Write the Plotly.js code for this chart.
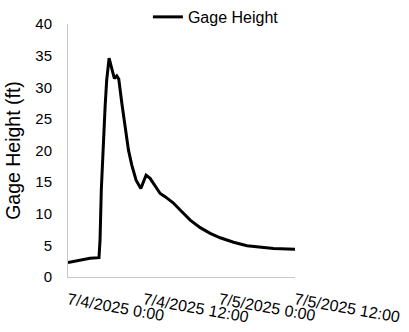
<!DOCTYPE html>
<html>
<head>
<meta charset="utf-8">
<script src="https://cdn.plot.ly/plotly-3.0.1.min.js"></script>
<style>html,body{margin:0;padding:0;background:#fff;}#chart{width:409px;height:332px;}</style>
</head>
<body>
<div id="chart"></div>
<script>
const times = [
  "2025-07-04 00:00","2025-07-04 02:26","2025-07-04 03:30","2025-07-04 04:55",
  "2025-07-04 05:05","2025-07-04 05:17","2025-07-04 05:31","2025-07-04 05:53",
  "2025-07-04 06:08","2025-07-04 06:31","2025-07-04 06:56","2025-07-04 07:21",
  "2025-07-04 07:44","2025-07-04 08:03","2025-07-04 08:32","2025-07-04 09:03",
  "2025-07-04 09:35","2025-07-04 10:07","2025-07-04 10:48","2025-07-04 11:33",
  "2025-07-04 11:58","2025-07-04 12:23","2025-07-04 13:01","2025-07-04 13:49",
  "2025-07-04 14:37","2025-07-04 15:24","2025-07-04 16:43","2025-07-04 17:47",
  "2025-07-04 19:23","2025-07-04 20:58","2025-07-04 22:33","2025-07-05 00:08",
  "2025-07-05 02:15","2025-07-05 04:23","2025-07-05 06:30","2025-07-05 08:36",
  "2025-07-05 12:00"
];
const gageHeight = [
  2.3, 2.7, 2.95, 3.05,
  5.9, 13.8, 20.0, 26.9,
  31.1, 34.6, 33.0, 31.4,
  31.8, 31.3, 27.5, 23.8,
  20.1, 17.7, 15.3, 14.0,
  15.1, 16.1, 15.6, 14.5,
  13.2, 12.7, 11.7, 10.6,
  9.0, 7.8, 6.9, 6.2,
  5.5, 4.95, 4.7, 4.5,
  4.4
];
const tickVals = ["2025-07-04 00:00","2025-07-04 12:00","2025-07-05 00:00","2025-07-05 12:00"];
const tickText = ["7/4/2025 0:00","7/4/2025 12:00","7/5/2025 0:00","7/5/2025 12:00"];
const yTicks = [0, 5, 10, 15, 20, 25, 30, 35, 40];
const seriesName = "Gage Height";

const font = "Liberation Sans, Arial, sans-serif";
Plotly.newPlot("chart", [{
  x: times, y: gageHeight, type: "scatter", mode: "lines", name: seriesName,
  line: {color: "#000000", width: 3}
}], {
  width: 409, height: 332,
  margin: {l: 68, r: 114, t: 24, b: 55, pad: 0, autoexpand: false},
  paper_bgcolor: "#ffffff", plot_bgcolor: "#ffffff",
  showlegend: true,
  legend: {orientation: "h", x: 0.352, xanchor: "left", xref: "paper",
    y: 1.095, yanchor: "top", yref: "paper",
    font: {family: font, size: 16, color: "#000"}, bgcolor: "rgba(0,0,0,0)"},
  xaxis: {
    type: "date", range: ["2025-07-04 00:00", "2025-07-05 12:00"],
    tickmode: "array", tickvals: tickVals, ticktext: tickText,
    tickangle: 10, ticks: "", showgrid: false, zeroline: false,
    showline: true, linecolor: "#c8c8c8", linewidth: 1,
    tickfont: {family: font, size: 16, color: "#000"},
    automargin: false, ticklabelstandoff: 7
  },
  yaxis: {
    range: [0, 40], tickmode: "array", tickvals: yTicks,
    ticks: "", showgrid: false, zeroline: false,
    showline: true, linecolor: "#c8c8c8", linewidth: 1,
    tickfont: {family: font, size: 15, color: "#000"},
    ticklabelstandoff: 12, automargin: false,
    title: {text: "Gage Height (ft)", font: {family: font, size: 19.5, color: "#000"}, standoff: 9}
  }
}, {displayModeBar: false, staticPlot: true});
</script>
</body>
</html>
